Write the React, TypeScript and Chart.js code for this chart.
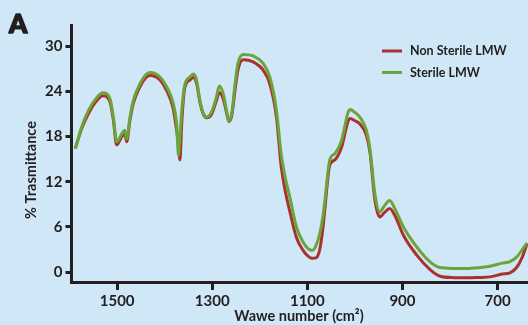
import React, { useEffect, useRef } from "react";
import { Chart, registerables } from "chart.js";

Chart.register(...registerables);

const wavenumbers = [
  1588, 1575, 1560, 1545, 1530, 1515, 1508, 1501, 1490, 1484, 1480, 1473, 1466, 1452, 1438, 1430,
  1410, 1396, 1382, 1375, 1371, 1368, 1364, 1358, 1347, 1340, 1333, 1326, 1319, 1312, 1301, 1291,
  1285, 1277, 1270, 1265, 1259, 1252, 1246, 1235, 1214, 1193, 1179, 1165, 1155, 1146, 1137, 1123,
  1109, 1098, 1090, 1082, 1074, 1067, 1063, 1053, 1042, 1028, 1014, 1010, 1000, 990, 976, 968,
  958, 948, 938, 927, 915, 898, 870, 842, 821, 790, 765, 740, 716, 690, 674, 660, 648, 638,
];

const sterile = [
  16.4, 19.2, 21.5, 23.0, 23.8, 23.0, 20.6, 17.3, 18.4, 18.85, 17.7, 20.6, 22.8, 25.0, 26.3, 26.5,
  25.9, 24.6, 22.4, 19.7, 15.5, 18.0, 21.5, 24.8, 25.9, 26.3, 25.5, 22.8, 21.1, 20.6, 21.3, 23.3,
  24.7, 23.7, 21.5, 20.1, 21.1, 25.0, 27.7, 28.9, 28.7, 27.7, 25.9, 21.5, 15.6, 12.4, 10.0, 6.0,
  4.0, 3.1, 2.9, 3.5, 5.1, 7.5, 9.56, 14.87, 15.75, 17.5, 21.3, 21.6, 21.2, 20.6, 18.85, 16.2,
  10.4, 8.0, 8.8, 9.5, 8.3, 6.0, 3.36, 1.37, 0.62, 0.5, 0.49, 0.6, 0.8, 1.2, 1.4, 2.0, 3.0, 3.9,
];

const nonSterile = [
  16.4, 19.0, 21.1, 22.6, 23.4, 22.6, 20.2, 16.9, 18.0, 18.3, 17.3, 20.2, 22.4, 24.6, 25.9, 26.1,
  25.5, 24.1, 21.7, 18.85, 17.0, 14.9, 20.0, 24.4, 25.5, 25.85, 25.1, 22.6, 21.0, 20.5, 21.0, 22.8,
  23.85, 23.0, 21.2, 20.0, 20.8, 24.2, 26.8, 28.2, 27.9, 26.8, 25.0, 20.6, 14.0, 10.6, 8.1, 4.6,
  2.9, 2.1, 1.85, 1.9, 3.0, 6.0, 8.5, 14.2, 14.9, 16.6, 20.1, 20.4, 20.1, 19.7, 18.2, 15.75,
  9.6, 7.34, 7.9, 8.46, 7.4, 4.9, 2.26, 0.35, -0.53, -0.72, -0.75, -0.7, -0.62, -0.25, -0.09, 0.62, 2.0, 3.8,
];

const xTicks = [1500, 1300, 1100, 900, 700];
const yTicks = [0, 6, 12, 18, 24, 30];

const seriesNames = ["Non Sterile LMW", "Sterile LMW"];
const seriesColors = ["#a8332e", "#6aa43a"];

const INK = "#231f20";
const BG = "#cfe7f6";
const FONT = "Lato, 'Open Sans', sans-serif";

export default function App() {
  const ref = useRef<HTMLCanvasElement | null>(null);

  useEffect(() => {
    if (!ref.current) return;

    const decor = {
      id: "decor",
      beforeDraw(chart: any) {
        const ctx = chart.ctx;
        ctx.save();
        ctx.fillStyle = BG;
        ctx.fillRect(0, 0, chart.width, chart.height);
        ctx.restore();
      },
      afterDraw(chart: any) {
        const ctx = chart.ctx;
        ctx.save();
        ctx.fillStyle = INK;
        ctx.strokeStyle = INK;
        // panel letter
        ctx.font = `900 26px ${FONT}`;
        ctx.textAlign = "left";
        ctx.textBaseline = "alphabetic";
        ctx.lineWidth = 1.6;
        ctx.lineJoin = "round";
        ctx.strokeText("A", 9, 33);
        ctx.fillText("A", 9, 33);
        // x title
        ctx.font = `bold 14.5px ${FONT}`;
        ctx.textAlign = "center";
        ctx.fillText("Wawe number (cm²)", 299, 321);
        // y title
        ctx.save();
        ctx.translate(31, 170);
        ctx.rotate(-Math.PI / 2);
        ctx.textBaseline = "middle";
        ctx.font = `bold 14.5px ${FONT}`;
        ctx.fillText("% Trasmittance", 0, 0);
        ctx.restore();
        // legend
        const ys = [51, 72.5];
        seriesNames.forEach((name, i) => {
          ctx.strokeStyle = seriesColors[i];
          ctx.lineWidth = 3;
          ctx.beginPath();
          ctx.moveTo(382, ys[i]);
          ctx.lineTo(402, ys[i]);
          ctx.stroke();
          ctx.fillStyle = INK;
          ctx.textAlign = "left";
          ctx.textBaseline = "middle";
          ctx.font = `bold 12.5px ${FONT}`;
          ctx.fillText(name, 410, ys[i]);
        });
        ctx.restore();
      },
    };

    const toPoints = (vals: number[]) => vals.map((v, i) => ({ x: wavenumbers[i], y: v }));

    const chart = new Chart(ref.current, {
      type: "line",
      data: {
        datasets: [
          {
            label: seriesNames[0],
            data: toPoints(nonSterile),
            borderColor: seriesColors[0],
            borderWidth: 3,
            pointRadius: 0,
            cubicInterpolationMode: "monotone",
            fill: false,
            order: 1,
          },
          {
            label: seriesNames[1],
            data: toPoints(sterile),
            borderColor: seriesColors[1],
            borderWidth: 3,
            pointRadius: 0,
            cubicInterpolationMode: "monotone",
            fill: false,
            order: 0,
          },
        ],
      },
      options: {
        responsive: false,
        animation: false,
        layout: { padding: { top: 25, left: 0, right: 0, bottom: 0 } },
        plugins: { legend: { display: false }, tooltip: { enabled: false } },
        scales: {
          x: {
            type: "linear",
            reverse: true,
            min: 636,
            max: 1596,
            afterBuildTicks: (s: any) => {
              s.ticks = xTicks.map((v) => ({ value: v }));
            },
            afterFit: (s: any) => {
              s.height = 43;
            },
            grid: {
              drawOnChartArea: false,
              drawTicks: true,
              tickLength: 8,
              color: INK,
              lineWidth: 3,
            },
            border: { display: true, color: INK, width: 3 },
            ticks: {
              color: INK,
              font: { family: FONT, weight: "bold", size: 15 },
              padding: 2,
              maxRotation: 0,
              autoSkip: false,
              callback: (v: any) => String(v),
            },
          },
          y: {
            type: "linear",
            min: -1.3,
            max: 32.8,
            afterBuildTicks: (s: any) => {
              s.ticks = yTicks.map((v) => ({ value: v }));
            },
            afterFit: (s: any) => {
              s.width = 71.5;
            },
            grid: {
              drawOnChartArea: false,
              drawTicks: true,
              tickLength: 6,
              color: INK,
              lineWidth: 3,
            },
            border: { display: true, color: INK, width: 3 },
            ticks: {
              color: INK,
              font: { family: FONT, weight: "bold", size: 15 },
              padding: 3,
              autoSkip: false,
              callback: (v: any) => String(v),
            },
          },
        },
      },
      plugins: [decor],
    } as any);

    return () => chart.destroy();
  }, []);

  return (
    <div style={{ position: "fixed", left: 0, top: 0, width: 528, height: 325, background: BG }}>
      <canvas ref={ref} width={528} height={325} style={{ display: "block", width: 528, height: 325 }} />
    </div>
  );
}
